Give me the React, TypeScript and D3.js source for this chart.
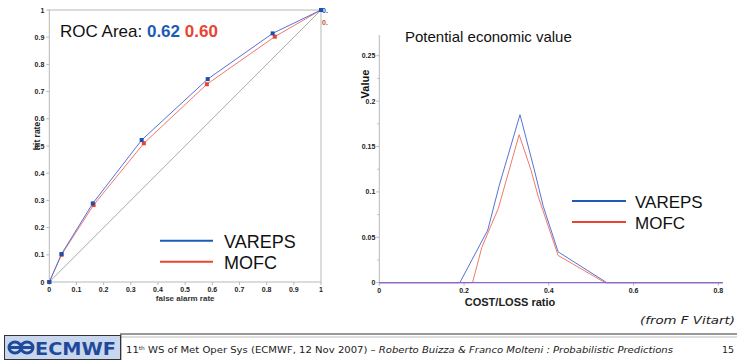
import React from 'react';
import * as d3 from 'd3';

// ROC chart data
const rocFar = [0, 0.045, 0.16, 0.34, 0.583, 0.822, 1];
const rocHitVareps = [0, 0.103, 0.289, 0.522, 0.746, 0.914, 1];
const rocFarMofc = [0, 0.045, 0.163, 0.348, 0.58, 0.83, 1];
const rocHitMofc = [0, 0.1, 0.283, 0.51, 0.727, 0.902, 1];
const rocTicks = [0, 0.1, 0.2, 0.3, 0.4, 0.5, 0.6, 0.7, 0.8, 0.9, 1];

// potential economic value data
const clVareps = [0, 0.19, 0.256, 0.283, 0.332, 0.366, 0.387, 0.422, 0.537, 0.81];
const valVareps = [0, 0, 0.058, 0.107, 0.185, 0.124, 0.084, 0.034, 0, 0];
const clMofc = [0, 0.22, 0.242, 0.281, 0.33, 0.358, 0.375, 0.422, 0.533, 0.81];
const valMofc = [0, 0, 0.039, 0.082, 0.163, 0.124, 0.095, 0.03, 0, 0];
const pevXTicks = [0, 0.2, 0.4, 0.6, 0.8];
const pevYTicks = [0, 0.05, 0.1, 0.15, 0.2, 0.25];
const pevYMinor = [0.025, 0.075, 0.125, 0.175, 0.225];

const BLUE = '#1d5bb5';
const RED = '#ea4330';
const LINE_BLUE = '#5673d6';
const LINE_RED = '#f2796a';
const AXIS = '#b8b8b8';
const FONT = '"Liberation Sans", Arial, sans-serif';
const VERDANA = '"DejaVu Sans", Verdana, sans-serif';

const fmt = (v: number) => String(+v.toFixed(3));

const App = () => {
  // left ROC
  const rx = d3.scaleLinear().domain([0, 1]).range([49.3, 321]);
  const ry = d3.scaleLinear().domain([0, 1]).range([282, 10]);
  const rocLine = d3.line<[number, number]>().x((d) => rx(d[0])).y((d) => ry(d[1]));
  const vPts: [number, number][] = rocFar.map((f, i) => [f, rocHitVareps[i]]);
  const mPts: [number, number][] = rocFarMofc.map((f, i) => [f, rocHitMofc[i]]);

  // right PEV
  const px = d3.scaleLinear().domain([0, 0.8]).range([379.3, 718.3]);
  const py = d3.scaleLinear().domain([0, 0.25]).range([282.7, 55.7]);
  const pevLine = d3.line<[number, number]>().x((d) => px(d[0])).y((d) => py(d[1]));
  const pv: [number, number][] = clVareps.map((c, i) => [c, valVareps[i]]);
  const pm: [number, number][] = clMofc.map((c, i) => [c, valMofc[i]]);

  return (
    <svg width={737} height={360} style={{ position: 'absolute', left: 0, top: 0, background: '#fff' }}>
      {/* ---------- ROC ---------- */}
      <rect x={rx(0)} y={ry(1)} width={rx(1) - rx(0)} height={ry(0) - ry(1)} fill="none" stroke={AXIS} strokeWidth={1} />
      {rocTicks.map((t) => (
        <g key={'ry' + t}>
          <line x1={rx(0) - 3} x2={rx(0)} y1={ry(t)} y2={ry(t)} stroke={AXIS} />
          <text x={rx(0) - 5} y={ry(t) + 2.5} fontSize={7} fontWeight="bold" textAnchor="end" fontFamily={FONT} fill="#222">
            {fmt(t)}
          </text>
          <line x1={rx(t)} x2={rx(t)} y1={ry(0)} y2={ry(0) + 3} stroke={AXIS} />
          <text x={rx(t)} y={ry(0) + 10} fontSize={7} fontWeight="bold" textAnchor="middle" fontFamily={FONT} fill="#222">
            {fmt(t)}
          </text>
        </g>
      ))}
      <line x1={rx(0)} y1={ry(0)} x2={rx(1)} y2={ry(1)} stroke="#a0a0a0" strokeWidth={0.9} />
      <path d={rocLine(mPts) || ''} fill="none" stroke={LINE_RED} strokeWidth={1} />
      <path d={rocLine(vPts) || ''} fill="none" stroke={LINE_BLUE} strokeWidth={1} />
      {mPts.map((p, i) => (
        <rect key={'mp' + i} x={rx(p[0]) - 2} y={ry(p[1]) - 2} width={4} height={4} fill={RED} />
      ))}
      {vPts.map((p, i) => (
        <rect key={'vp' + i} x={rx(p[0]) - 2} y={ry(p[1]) - 2} width={4} height={4} fill="#1f4fa8" />
      ))}
      <text x={rx(1) + 1} y={ry(1) + 3} fontSize={7} fontWeight="bold" fontFamily={FONT} fill="#1f4fa8">0.</text>
      <text x={rx(1) + 1} y={ry(1) + 15} fontSize={7} fontWeight="bold" fontFamily={FONT} fill="#c05a20">0.</text>
      <text x={40} y={136} fontSize={8.5} fontWeight="bold" fontFamily={FONT} fill="#222" transform="rotate(-90 40 136)" textAnchor="middle">
        hit rate
      </text>
      <text x={(rx(0) + rx(1)) / 2} y={301} fontSize={8} fontWeight="bold" textAnchor="middle" fontFamily={FONT} fill="#333">
        false alarm rate
      </text>
      <text x={60} y={37} fontSize={17} fontFamily={FONT} fill="#111">
        ROC Area: <tspan fontWeight="bold" fill={BLUE}>0.62</tspan> <tspan fontWeight="bold" fill={RED}>0.60</tspan>
      </text>
      {/* legend */}
      <line x1={160} x2={213} y1={240.7} y2={240.7} stroke={BLUE} strokeWidth={2} />
      <line x1={160} x2={213} y1={261.7} y2={261.7} stroke={RED} strokeWidth={2} />
      <text x={224} y={247.5} fontSize={18} fontFamily={FONT} fill="#111">VAREPS</text>
      <text x={224} y={268.5} fontSize={18} fontFamily={FONT} fill="#111">MOFC</text>

      {/* ---------- PEV ---------- */}
      <text x={405} y={42} fontSize={15} fontFamily={FONT} fill="#111">Potential economic value</text>
      <line x1={px(0)} x2={px(0)} y1={35} y2={py(0)} stroke={AXIS} />
      {pevYTicks.map((t) => (
        <g key={'py' + t}>
          <line x1={px(0) - 3} x2={px(0)} y1={py(t)} y2={py(t)} stroke={AXIS} />
          <text x={px(0) - 4} y={py(t) + 2.5} fontSize={7} fontWeight="bold" textAnchor="end" fontFamily={FONT} fill="#222">
            {fmt(t)}
          </text>
        </g>
      ))}
      {pevYMinor.map((t) => (
        <line key={'pm' + t} x1={px(0) - 2} x2={px(0)} y1={py(t)} y2={py(t)} stroke={AXIS} />
      ))}
      {pevXTicks.map((t) => (
        <g key={'px' + t}>
          <line x1={px(t)} x2={px(t)} y1={py(0)} y2={py(0) + 3} stroke={AXIS} />
          <text x={px(t)} y={py(0) + 10} fontSize={7} fontWeight="bold" textAnchor="middle" fontFamily={FONT} fill="#222">
            {fmt(t)}
          </text>
        </g>
      ))}
      <path d={pevLine(pv) || ''} fill="none" stroke={LINE_BLUE} strokeWidth={1} />
      <path d={pevLine(pm) || ''} fill="none" stroke={LINE_RED} strokeWidth={1} />
      <line x1={px(0)} x2={723} y1={py(0)} y2={py(0)} stroke="#8d66cc" strokeWidth={1.3} />
      <text x={369} y={84} fontSize={11} fontWeight="bold" fontFamily={FONT} fill="#111" transform="rotate(-90 369 84)" textAnchor="middle">
        Value
      </text>
      <text x={510} y={306} fontSize={11} fontWeight="bold" textAnchor="middle" fontFamily={FONT} fill="#222">
        COST/LOSS ratio
      </text>
      <text x={640} y={324} fontSize={11} fontStyle="italic" fontFamily={VERDANA} fill="#222" textLength={95} lengthAdjust="spacingAndGlyphs">
        (from F Vitart)
      </text>
      <line x1={572} x2={626} y1={201} y2={201} stroke={BLUE} strokeWidth={2} />
      <line x1={572} x2={626} y1={222} y2={222} stroke={RED} strokeWidth={2} />
      <text x={635} y={207.5} fontSize={17} fontFamily={FONT} fill="#111">VAREPS</text>
      <text x={635} y={228.5} fontSize={17} fontFamily={FONT} fill="#111">MOFC</text>

      {/* ---------- footer ---------- */}
      <line x1={120} x2={737} y1={334} y2={334} stroke="#333" strokeWidth={1.2} />
      <line x1={120} x2={737} y1={337} y2={337} stroke="#aaa" strokeWidth={0.8} />
      <line x1={121} x2={121} y1={334} y2={360} stroke="#555" strokeWidth={0.8} />
      <rect x={4.5} y={335.5} width={116} height={24} fill="#c9d7ee" stroke="#333" strokeWidth={1} />
      <g fill="#1f4a9a">
        <ellipse cx={15} cy={347.5} rx={6} ry={5.5} fill="none" stroke="#1f4a9a" strokeWidth={3} />
        <ellipse cx={27} cy={347.5} rx={6} ry={5.5} fill="none" stroke="#1f4a9a" strokeWidth={3} />
        <rect x={8} y={346} width={26} height={3} />
        <text x={35} y={355} fontSize={18} fontWeight="bold" fontFamily={VERDANA} textLength={81} lengthAdjust="spacingAndGlyphs">
          ECMWF
        </text>
      </g>
      <text x={126} y={353} fontSize={9.5} fontFamily={VERDANA} fill="#222" textLength={547} lengthAdjust="spacingAndGlyphs">
        11<tspan fontSize={5.5} dy={-3.5}>th</tspan>
        <tspan dy={3.5}> WS of Met Oper Sys (ECMWF, 12 Nov 2007) – </tspan>
        <tspan fontStyle="italic">Roberto Buizza &amp; Franco Molteni : Probabilistic Predictions</tspan>
      </text>
      <text x={722} y={353} fontSize={9.5} fontFamily={VERDANA} fill="#222">15</text>
    </svg>
  );
};

export default App;
